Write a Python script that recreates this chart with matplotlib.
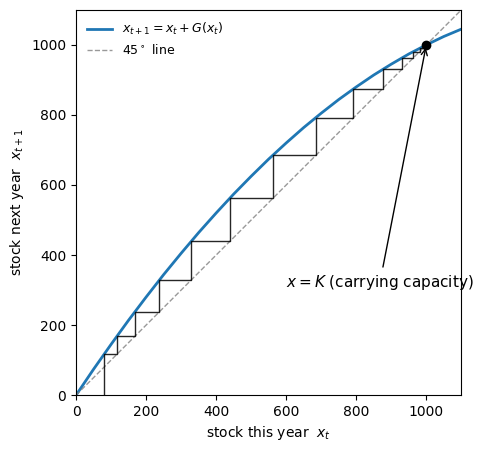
import matplotlib.pyplot as plt
import numpy as np

# curve x_{t+1} = x_t + G(x_t)
curve_x = [0, 50, 100, 150, 200, 250, 300, 350, 400, 450, 500, 550,
           600, 650, 700, 750, 800, 850, 900, 950, 1000, 1050, 1100]
curve_y = [0, 74, 145, 214, 280, 344, 405, 464, 520, 574, 625, 674,
           720, 764, 805, 844, 880, 914, 945, 974, 1000, 1024, 1045]

# stock each year along the staircase
stock_path = [80, 118, 168, 238, 328, 440, 563, 686, 792, 875, 930, 963, 981, 991]

K = 1000
x_max = 1100

fig, ax = plt.subplots(figsize=(4.85, 4.49), dpi=100)

ax.plot(curve_x, curve_y, color="C0", linewidth=2, label=r"$x_{t+1} = x_t + G(x_t)$")
ax.plot([0, x_max], [0, x_max], color="gray", linestyle="--", linewidth=1, alpha=0.8,
        label=r"45$^\circ$ line")

# staircase
sx = [stock_path[0]]
sy = [0]
for cur, nxt in zip(stock_path[:-1], stock_path[1:]):
    sx += [cur, nxt]
    sy += [nxt, nxt]
ax.plot(sx, sy, color="black", linewidth=1, alpha=0.85)

ax.plot([K], [K], "ko", markersize=6)
ax.annotate(r"$x = K$ (carrying capacity)", xy=(K, K), xytext=(600, 310),
            arrowprops=dict(arrowstyle="->", color="black", linewidth=1),
            fontsize=11)

ax.set_xlim(0, x_max)
ax.set_ylim(0, x_max)
ax.set_aspect("equal")
ax.set_xticks([0, 200, 400, 600, 800, 1000])
ax.set_yticks([0, 200, 400, 600, 800, 1000])
ax.set_xlabel(r"stock this year  $x_t$")
ax.set_ylabel(r"stock next year  $x_{t+1}$")
ax.legend(loc="upper left", frameon=False, fontsize=9)

plt.subplots_adjust(left=0.155, right=0.953, bottom=0.12, top=0.978)
plt.savefig("out.png", dpi=100)
